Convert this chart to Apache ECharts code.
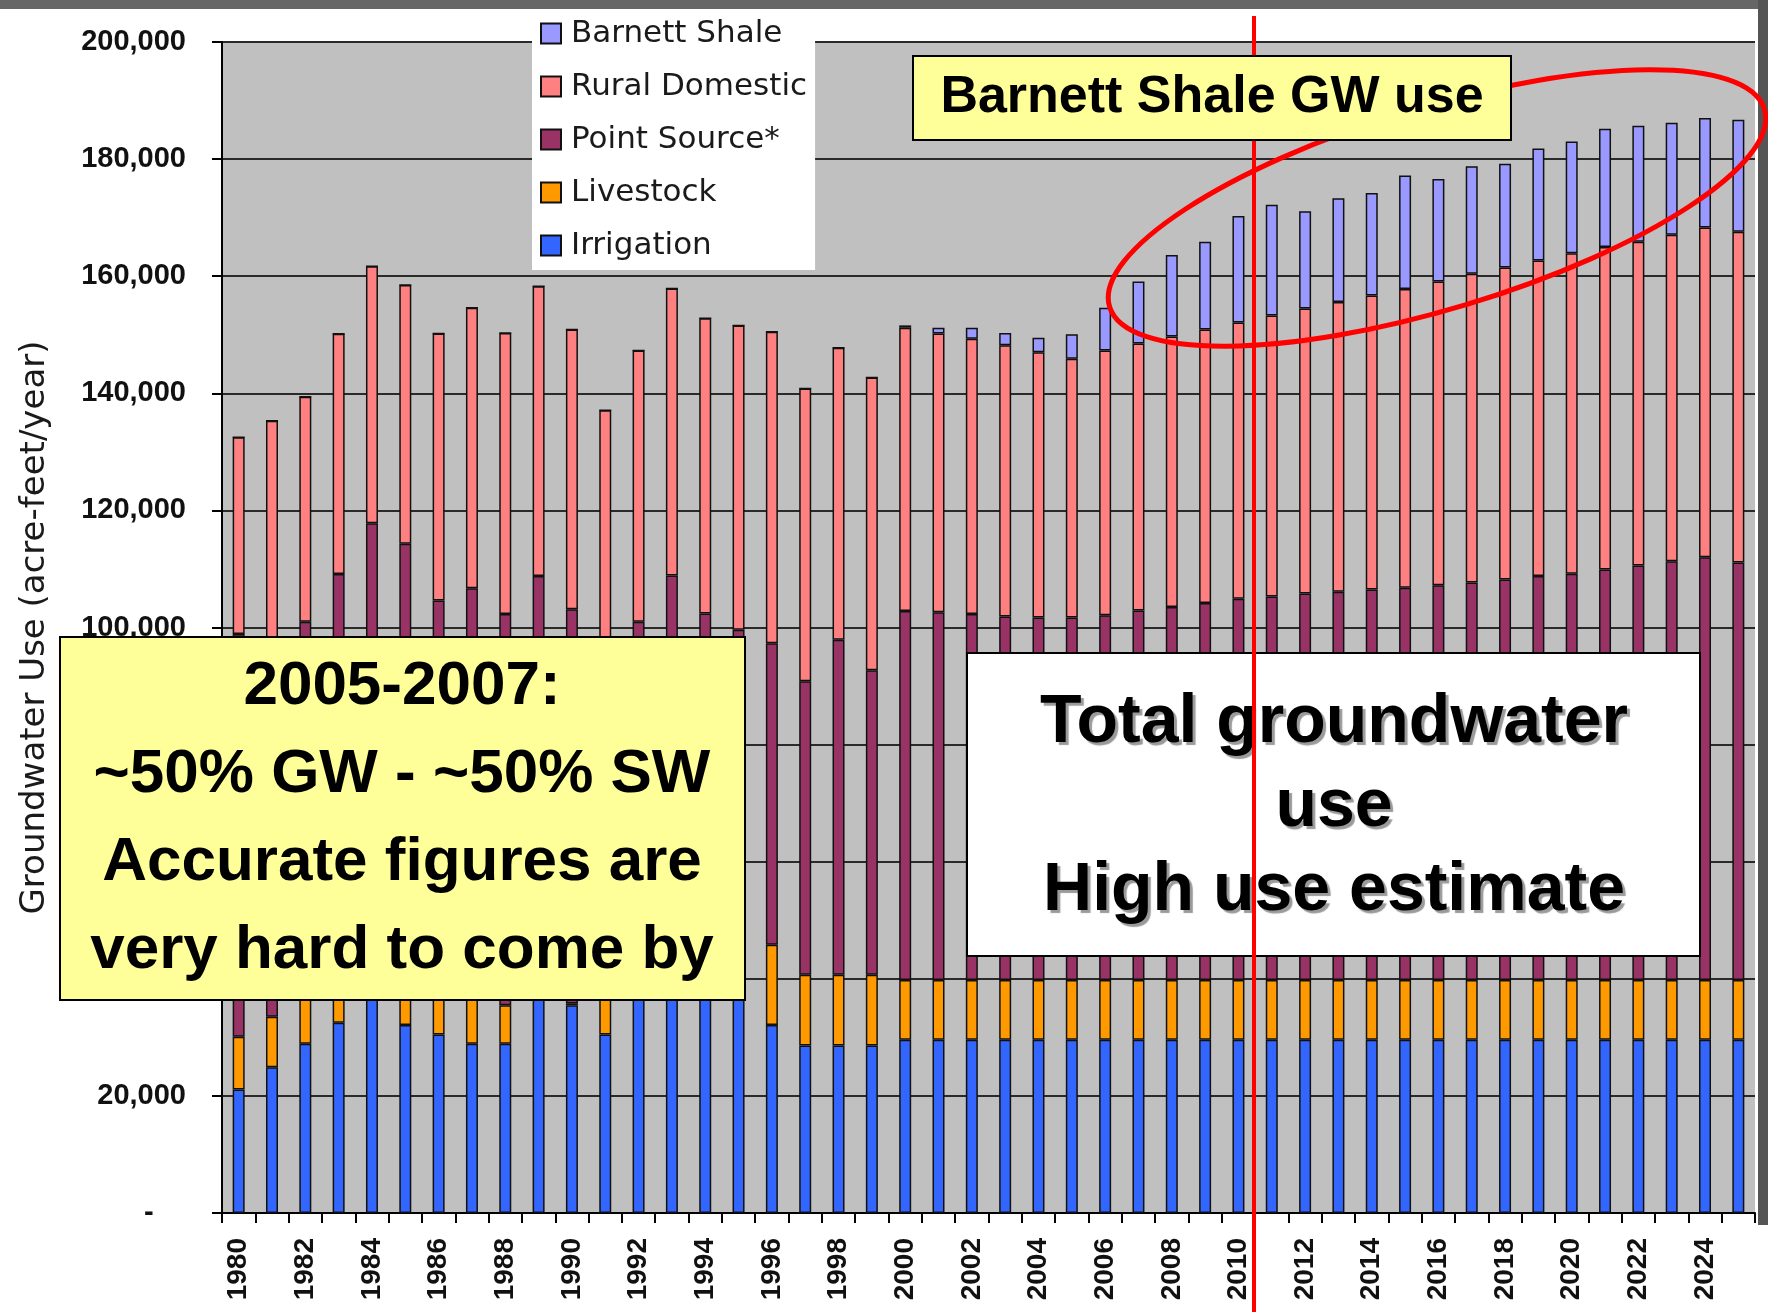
<!DOCTYPE html>
<html>
<head>
<meta charset="utf-8">
<title>Groundwater Use</title>
<script src="https://cdn.jsdelivr.net/npm/echarts/dist/echarts.min.js"></script>
<style>
  html, body { margin: 0; padding: 0; background: #fff; }
  #main { width: 1768px; height: 1312px; }
</style>
</head>
<body>
<div id="main"></div>
<script>
var years = ['1980', '1981', '1982', '1983', '1984', '1985', '1986', '1987', '1988', '1989',
  '1990', '1991', '1992', '1993', '1994', '1995', '1996', '1997', '1998', '1999',
  '2000', '2001', '2002', '2003', '2004', '2005', '2006', '2007', '2008', '2009',
  '2010', '2011', '2012', '2013', '2014', '2015', '2016', '2017', '2018', '2019',
  '2020', '2021', '2022', '2023', '2024', '2025']

// acre-feet/year, one value per year (stack segments, bottom to top)
var irrigation = [21100, 24900, 28900, 32500, 41000, 32100, 30500, 28900, 28900, 40500,
  35500, 30500, 40000, 41000, 39500, 40000, 32100, 28600, 28600, 28600,
  29600, 29600, 29600, 29600, 29600, 29600, 29600, 29600, 29600, 29600,
  29600, 29600, 29600, 29600, 29600, 29600, 29600, 29600, 29600, 29600,
  29600, 29600, 29600, 29600, 29600, 29600]
var livestock = [9000, 8600, 9000, 8500, 7000, 8500, 8500, 8500, 6600, 1500,
  300, 8500, 1500, 1000, 1500, 1000, 13700, 12100, 12100, 12100,
  10200, 10200, 10200, 10200, 10200, 10200, 10200, 10200, 10200, 10200,
  10200, 10200, 10200, 10200, 10200, 10200, 10200, 10200, 10200, 10200,
  10200, 10200, 10200, 10200, 10200, 10200]
var pointSource = [68800, 64000, 63100, 68150, 69800, 73700, 65600, 69300, 66800, 66800,
  67300, 57000, 59500, 66900, 61400, 58600, 51500, 50100, 57200, 52000,
  63000, 62800, 62500, 62100, 61900, 61900, 62300, 63100, 63700, 64400,
  65100, 65500, 66000, 66300, 66700, 67000, 67400, 67900, 68400, 69000,
  69400, 70100, 70800, 71500, 72200, 71300]
var ruralDomestic = [33600, 37800, 38400, 41000, 43900, 44200, 45600, 47900, 48000, 49500,
  47800, 41100, 46300, 49000, 50400, 52000, 53200, 50000, 49900, 50000,
  48400, 47600, 47000, 46300, 45300, 44200, 45200, 45600, 46200, 46700,
  47200, 48000, 48700, 49500, 50200, 51000, 51900, 52700, 53300, 53900,
  54700, 55100, 55300, 55800, 56300, 56500]
var barnettShale = [0, 0, 0, 0, 0, 0, 0, 0, 0, 0,
  0, 0, 0, 0, 0, 0, 0, 0, 0, 0,
  400, 1000, 1900, 2100, 2500, 4200, 7300, 10600, 13900, 15000,
  18200, 18900, 16600, 17700, 17500, 19400, 17500, 18400, 17700, 19100,
  19100, 20200, 19800, 19100, 18700, 19100]

var yTickLabels = ['-    ', '20,000', '40,000', '60,000', '80,000', '100,000',
  '120,000', '140,000', '160,000', '180,000', '200,000']

var seriesNames = ['Irrigation', 'Livestock', 'Point Source*', 'Rural Domestic', 'Barnett Shale']
var seriesColors = ['#3366ff', '#ff9900', '#993366', '#ff8080', '#9999ff']
var seriesData = [irrigation, livestock, pointSource, ruralDomestic, barnettShale]

var FONT = '"Liberation Sans", Arial, sans-serif'

var series = []
for (var i = 0; i < seriesNames.length; i++) {
  series.push({
    name: seriesNames[i],
    type: 'bar',
    stack: 'total',
    barWidth: 12,
    data: seriesData[i],
    itemStyle: {
      color: seriesColors[i],
      borderColor: '#111',
      borderWidth: 1.5
    },
    emphasis: { disabled: true }
  })
}

var chart = echarts.init(document.getElementById('main'))
chart.setOption({
  animation: false,
  backgroundColor: '#ffffff',
  grid: {
    left: 222,
    right: 13,
    top: 42,
    bottom: 99,
    show: true,
    backgroundColor: '#c0c0c0',
    borderWidth: 0
  },
  legend: {
    orient: 'vertical',
    left: 532,
    top: 8,
    padding: [10, 8, 9, 8],
    backgroundColor: '#ffffff',
    icon: 'rect',
    itemWidth: 20,
    itemHeight: 20,
    itemGap: 22,
    data: ['Barnett Shale', 'Rural Domestic', 'Point Source*', 'Livestock', 'Irrigation'],
    textStyle: {
      fontFamily: '"DejaVu Sans", sans-serif',
      fontSize: 31,
      lineHeight: 30,
      color: '#1a1a1a',
      padding: [0, 0, 0, 5]
    }
  },
  xAxis: {
    type: 'category',
    data: years,
    boundaryGap: true,
    axisLine: { lineStyle: { color: '#000', width: 2 } },
    axisTick: { show: true, interval: 0, length: 10, lineStyle: { color: '#000', width: 2 } },
    axisLabel: {
      interval: 1,
      rotate: 90,
      margin: 25,
      fontFamily: FONT,
      fontWeight: 'bold',
      fontSize: 28,
      color: '#111'
    },
    splitLine: { show: false }
  },
  yAxis: {
    type: 'value',
    min: 0,
    max: 200000,
    interval: 20000,
    name: 'Groundwater Use (acre-feet/year)',
    nameLocation: 'middle',
    nameGap: 170,
    nameTextStyle: {
      fontFamily: '"DejaVu Sans", sans-serif',
      fontSize: 34,
      color: '#1a1a1a'
    },
    axisLine: { show: true, lineStyle: { color: '#000', width: 2 } },
    axisTick: { show: true, length: 10, lineStyle: { color: '#000', width: 2 } },
    axisLabel: {
      margin: 36,
      fontFamily: FONT,
      fontWeight: 'bold',
      fontSize: 29,
      color: '#111',
      formatter: function (v) {
        return yTickLabels[Math.round(v / 20000)]
      }
    },
    splitLine: { show: true, lineStyle: { color: '#2a2a2a', width: 2 } }
  },
  series: series,
  graphic: [
    // photo edge strips
    { type: 'rect', z: 50, shape: { x: 0, y: 0, width: 1768, height: 9 }, style: { fill: '#666' } },
    { type: 'rect', z: 50, shape: { x: 1758, y: 0, width: 10, height: 1225 }, style: { fill: '#555' } },
    // red ellipse round Barnett Shale bars
    {
      type: 'ellipse',
      z: 100,
      shape: { cx: 1437, cy: 208, rx: 342, ry: 101 },
      originX: 1437,
      originY: 208,
      rotation: 0.293,
      style: { fill: 'none', stroke: '#ff0000', lineWidth: 5 }
    },
    // left note
    {
      type: 'rect',
      z: 100,
      shape: { x: 60, y: 637, width: 685, height: 363 },
      style: { fill: '#ffff99', stroke: '#000', lineWidth: 2 }
    },
    {
      type: 'text',
      z: 101,
      x: 402,
      y: 819,
      style: {
        text: '2005-2007:\n~50% GW - ~50% SW\nAccurate figures are\nvery hard to come by',
        font: 'bold 62px ' + FONT,
        fill: '#000',
        align: 'center',
        verticalAlign: 'middle',
        lineHeight: 88
      }
    },
    // right note
    {
      type: 'rect',
      z: 100,
      shape: { x: 967, y: 653, width: 733, height: 303 },
      style: { fill: '#ffffff', stroke: '#000', lineWidth: 2 }
    },
    {
      type: 'text',
      z: 101,
      x: 1334,
      y: 807,
      style: {
        text: 'Total groundwater\nuse\nHigh use estimate',
        font: 'bold 68px ' + FONT,
        fill: '#000',
        align: 'center',
        verticalAlign: 'middle',
        lineHeight: 84,
        textShadowColor: '#9a9a9a',
        textShadowOffsetX: 3,
        textShadowOffsetY: 3,
        textShadowBlur: 1
      }
    },
    // red divider line
    {
      type: 'line',
      z: 110,
      shape: { x1: 1254, y1: 16, x2: 1254, y2: 1312 },
      style: { stroke: '#ff0000', lineWidth: 4 }
    },
    // Barnett Shale label
    {
      type: 'rect',
      z: 120,
      shape: { x: 913, y: 56, width: 598, height: 84 },
      style: { fill: '#ffff99', stroke: '#000', lineWidth: 2 }
    },
    {
      type: 'text',
      z: 121,
      x: 1212,
      y: 98,
      style: {
        text: 'Barnett Shale GW use',
        font: 'bold 52px ' + FONT,
        fill: '#000',
        align: 'center',
        verticalAlign: 'middle'
      }
    }
  ]
})
</script>
</body>
</html>
